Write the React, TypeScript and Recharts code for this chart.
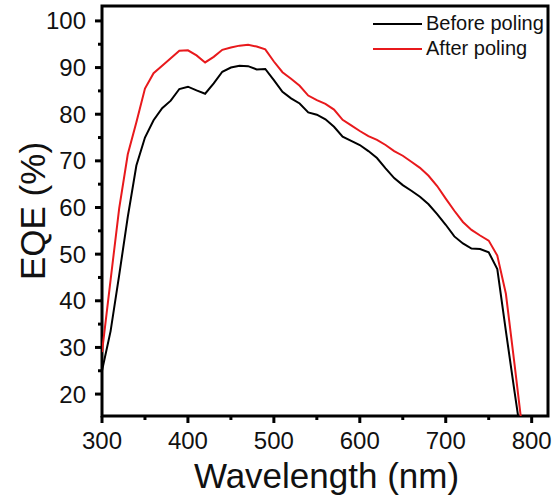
import React from 'react';
import { LineChart, Line, XAxis, YAxis, ReferenceArea } from 'recharts';

const wavelength = [
  300, 310, 320, 330, 340, 350, 360, 370, 380, 390,
  400, 410, 420, 430, 440, 450, 460, 470, 480, 490,
  500, 510, 520, 530, 540, 550, 560, 570, 580, 590,
  600, 610, 620, 630, 640, 650, 660, 670, 680, 690,
  700, 710, 720, 730, 740, 750, 760, 770, 780, 790,
];
const beforePoling = [
  25, 33.5, 45.5, 58, 69, 75, 78.7, 81.3, 82.9, 85.4,
  85.9, 85.1, 84.4, 86.6, 89.1, 90, 90.4, 90.3, 89.6, 89.7,
  87.3, 84.8, 83.4, 82.3, 80.4, 79.9, 78.9, 77.3, 75.2, 74.3,
  73.4, 72.1, 70.6, 68.4, 66.3, 64.8, 63.6, 62.3, 60.7, 58.6,
  56.3, 53.8, 52.3, 51.2, 51.1, 50.4, 46.8, 33.5, 20.6, 8,
];
const afterPoling = [
  29, 44.5, 59.8, 71.4, 78.3, 85.5, 88.8, 90.4, 92, 93.6,
  93.7, 92.6, 91.1, 92.3, 93.8, 94.3, 94.7, 94.9, 94.5, 93.9,
  91.3, 89, 87.6, 86.1, 84, 83, 82.2, 81, 78.8, 77.6,
  76.4, 75.3, 74.5, 73.4, 72.1, 71.1, 69.8, 68.5, 66.8, 64.6,
  61.9, 59.3, 56.9, 55.2, 54, 52.9, 49.7, 41.5, 26.5, 11,
];
const xTicks = [300, 350, 400, 450, 500, 550, 600, 650, 700, 750, 800];
const yTicks = [20, 25, 30, 35, 40, 45, 50, 55, 60, 65, 70, 75, 80, 85, 90, 95, 100];

const X_DOMAIN = [300, 819];
const Y_DOMAIN = [15.3, 103.2];

const W = 555;
const H = 503;
const Y_AXIS_W = 60;
const X_AXIS_H = 40;
const margin = { top: 6, right: 7, bottom: 87 - X_AXIS_H, left: 102 - Y_AXIS_W };
const plotLeft = 102;
const plotBottom = H - 87;
const FONT = '"Liberation Sans", Arial, sans-serif';

const data = wavelength.map((w, i) => ({ wavelength: w, before: beforePoling[i], after: afterPoling[i] }));

const renderXTick = (props: any) => {
  const { x, payload } = props;
  const major = payload.value % 100 === 0;
  return (
    <g key={`xt-${payload.value}`}>
      <line x1={x} x2={x} y1={plotBottom} y2={plotBottom + (major ? 7 : 4)} stroke="#000" strokeWidth={3} />
      {major && (
        <text x={x} y={plotBottom + 33} textAnchor="middle" fontSize={24} fontFamily={FONT} fill="#111">
          {payload.value}
        </text>
      )}
    </g>
  );
};

const renderYTick = (props: any) => {
  const { y, payload } = props;
  const major = payload.value % 10 === 0;
  return (
    <g key={`yt-${payload.value}`}>
      <line x1={plotLeft - (major ? 7 : 4)} x2={plotLeft} y1={y} y2={y} stroke="#000" strokeWidth={3} />
      {major && (
        <text x={plotLeft - 16} y={y + 8.5} textAnchor="end" fontSize={24} fontFamily={FONT} fill="#111">
          {payload.value}
        </text>
      )}
    </g>
  );
};

const legendItems = [
  { label: 'Before poling', color: '#000000' },
  { label: 'After poling', color: '#e8191c' },
];

export default function App() {
  return (
    <div style={{ width: W, height: H, background: '#fff', position: 'relative' }}>
      <style>{`body{margin:0}`}</style>
      <LineChart width={W} height={H} data={data} margin={margin}>
        <XAxis
          type="number"
          dataKey="wavelength"
          domain={X_DOMAIN}
          ticks={xTicks}
          allowDataOverflow
          axisLine={false}
          tickLine={false}
          height={X_AXIS_H}
          tick={renderXTick}
          interval={0}
        />
        <YAxis
          type="number"
          domain={Y_DOMAIN}
          ticks={yTicks}
          allowDataOverflow
          axisLine={false}
          tickLine={false}
          width={Y_AXIS_W}
          tick={renderYTick}
          interval={0}
        />
        <ReferenceArea
          x1={X_DOMAIN[0]}
          x2={X_DOMAIN[1]}
          y1={Y_DOMAIN[0]}
          y2={Y_DOMAIN[1]}
          fill="none"
          stroke="#000"
          strokeWidth={3}
          fillOpacity={0}
        />
        <Line type="linear" dataKey="before" stroke="#000000" strokeWidth={2} dot={false} isAnimationActive={false} />
        <Line type="linear" dataKey="after" stroke="#e8191c" strokeWidth={2} dot={false} isAnimationActive={false} />
      </LineChart>
      <div style={{ position: 'absolute', top: 11, left: 373, fontFamily: FONT, fontSize: 20, color: '#111' }}>
        {legendItems.map((it) => (
          <div key={it.label} style={{ display: 'flex', alignItems: 'center', height: 25 }}>
            <span style={{ display: 'inline-block', width: 49, height: 2, background: it.color, marginRight: 4 }} />
            <span>{it.label}</span>
          </div>
        ))}
      </div>
      <div
        style={{
          position: 'absolute', left: 193, top: 456, width: 267, textAlign: 'center',
          fontFamily: FONT, fontSize: 35, color: '#111', whiteSpace: 'nowrap',
        }}
      >
        Wavelength (nm)
      </div>
      <svg style={{ position: 'absolute', left: 0, top: 0 }} width={60} height={H}>
        <text
          transform={`translate(45, 211) rotate(-90)`}
          textAnchor="middle"
          fontSize={35}
          fontFamily={FONT}
          fill="#111"
        >
          EQE (%)
        </text>
      </svg>
    </div>
  );
}
